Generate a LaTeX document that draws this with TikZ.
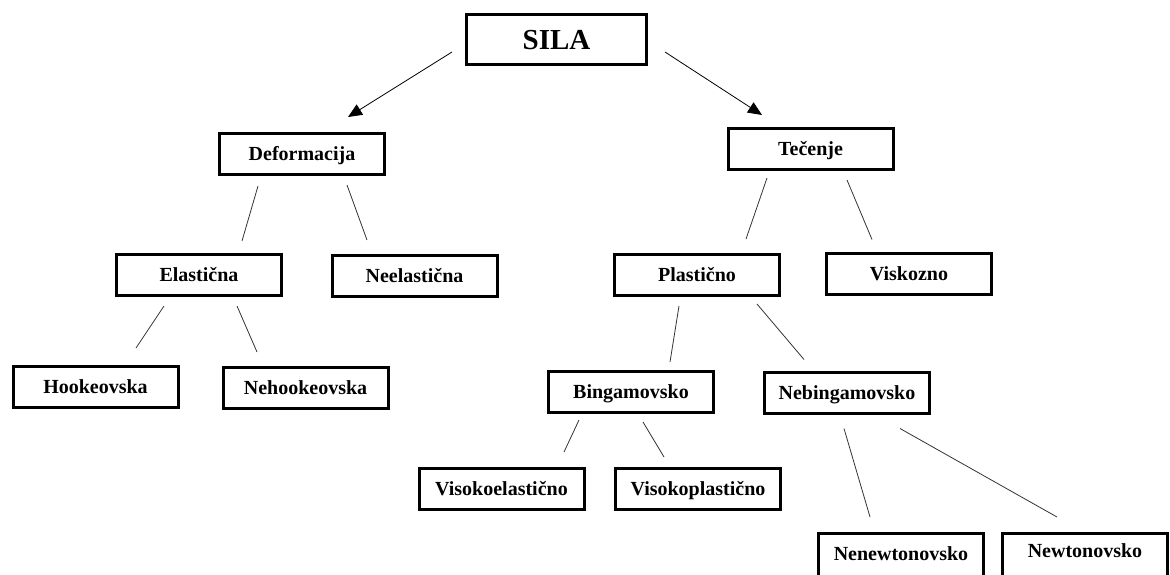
\documentclass[tikz,border=0pt]{standalone}
\usepackage{fontspec}
\setmainfont{Liberation Serif}
\usetikzlibrary{arrows.meta}

\begin{document}
\begin{tikzpicture}[x=1pt,y=-1pt,
	box/.style={draw, line width=3pt, minimum width=165pt, minimum height=41pt, inner sep=0pt,
		font=\fontsize{20}{24}\selectfont\bfseries, text height=13.5pt, text depth=0pt},
	bigbox/.style={box, minimum width=180pt, minimum height=50pt,
		font=\fontsize{29}{32}\selectfont\bfseries, text height=19pt},
	lowbox/.style={box, minimum height=47pt, text depth=6pt},
	link/.style={line width=0.8pt, black!80},
	arr/.style={line width=0.8pt, black, -{Triangle[length=14pt,width=12pt]}}]
			%%%%% START %%%%%
			\useasboundingbox (0,0) rectangle (1170,574);
			\clip (0,0) rectangle (1170,574);
			
			\node[bigbox] (sila) at (556.5,39.5) {SILA};
			
			\node[box] (deform) at (302,154) {Deformacija};
			\node[box] (elast) at (199,275) {Elastična};
			\node[box] (neelast) at (414.5,276) {Neelastična};
			\node[box] (hooke) at (95.5,387) {Hookeovska};
			\node[box] (nehooke) at (305.5,388) {Nehookeovska};
			
			\node[box] (tecenje) at (810.5,149) {Tečenje};
			\node[box] (plast) at (697,275) {Plastično};
			\node[box] (viskoz) at (909,273.5) {Viskozno};
			\node[box] (bing) at (631,392) {Bingamovsko};
			\node[box] (nebing) at (847,392.5) {Nebingamovsko};
			\node[box] (viskoel) at (501.5,489) {Visokoelastično};
			\node[box] (viskopl) at (698,489) {Visokoplastično};
			\node[lowbox] (nenewt) at (901,557) {Nenewtonovsko};
			\node[lowbox] (newt) at (1085,557) {\raisebox{3pt}{Newtonovsko}};
			
			\draw[arr] ([xshift=-13pt,yshift=-12.5pt]sila.west) -- ([xshift=46pt,yshift=15pt]deform.north);
			\draw[arr] ([xshift=17pt,yshift=-12.5pt]sila.east) -- ([xshift=-48.5pt,yshift=12pt]tecenje.north);
			
			\draw[link] ([xshift=-44pt,yshift=-10pt]deform.south) -- ([xshift=43pt,yshift=12pt]elast.north);
			\draw[link] ([xshift=45pt,yshift=-9pt]deform.south) -- ([xshift=-47.5pt,yshift=14pt]neelast.north);
			\draw[link] ([xshift=-35pt,yshift=-9pt]elast.south) -- ([xshift=40.5pt,yshift=17pt]hooke.north);
			\draw[link] ([xshift=38pt,yshift=-9pt]elast.south) -- ([xshift=-48.5pt,yshift=14pt]nehooke.north);
			
			\draw[link] ([xshift=-43.5pt,yshift=-7pt]tecenje.south) -- ([xshift=49pt,yshift=14pt]plast.north);
			\draw[link] ([xshift=36.5pt,yshift=-9pt]tecenje.south) -- ([xshift=-37pt,yshift=12pt]viskoz.north);
			\draw[link] ([xshift=-18pt,yshift=-9pt]plast.south) -- ([xshift=39pt,yshift=8pt]bing.north);
			\draw[link] ([xshift=60pt,yshift=-7pt]plast.south) -- ([xshift=-43pt,yshift=11pt]nebing.north);
			\draw[link] ([xshift=-52pt,yshift=-6pt]bing.south) -- ([xshift=62.5pt,yshift=15pt]viskoel.north);
			\draw[link] ([xshift=12pt,yshift=-8pt]bing.south) -- ([xshift=-34pt,yshift=10pt]viskopl.north);
			\draw[link] ([xshift=-3pt,yshift=-14pt]nebing.south) -- ([xshift=-31pt,yshift=15pt]nenewt.north);
			\draw[link] ([xshift=53pt,yshift=-14pt]nebing.south) -- ([xshift=-28pt,yshift=15pt]newt.north);
			%%%%% END %%%%%
\end{tikzpicture}
\end{document}
